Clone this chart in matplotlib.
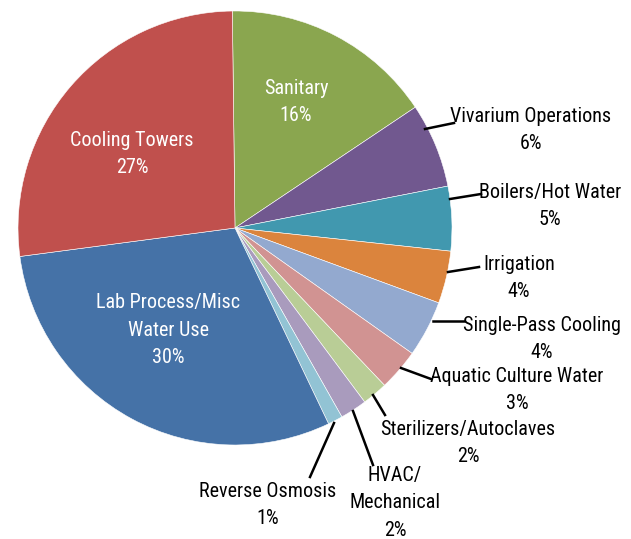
import matplotlib
matplotlib.use("Agg")
import matplotlib.pyplot as plt
from matplotlib import font_manager

# share of water use by category (percent)
categories = ["Sanitary", "Vivarium Operations", "Boilers/Hot Water", "Irrigation",
              "Single-Pass Cooling", "Aquatic Culture Water", "Sterilizers/Autoclaves",
              "HVAC/\nMechanical", "Reverse Osmosis", "Lab Process/Misc\nWater Use",
              "Cooling Towers"]
values = [15.8, 6.3, 4.8, 3.9, 4.2, 3.1, 1.9, 2.0, 1.1, 30.0, 26.9]
colors = ["#8AA64F", "#71588F", "#4198AF", "#DB843D", "#93A9CF", "#D19392",
          "#B9CD96", "#A99BBD", "#92C3D4", "#4572A7", "#C0504D"]

W, H = 631, 539

# narrow fonts first, the reference uses a condensed face
names = {f.name for f in font_manager.fontManager.ttflist}
fonts = [('Liberation Sans Narrow', 14.5), ('Roboto Condensed', 14.5),
         ('Open Sans Condensed', 14.5), ('Liberation Sans', 12.5)]
family, fs = next(((n, s) for n, s in fonts if n in names), ('DejaVu Sans', 11.5))
plt.rcParams['font.family'] = [family, 'DejaVu Sans']
ls = 1.58

fig = plt.figure(figsize=(W / 100, H / 100), dpi=100)
ax = fig.add_axes([0, 0, 1, 1])


def py(y):
    # image pixel rows run top-down
    return H - y


ax.pie(values, colors=colors, startangle=90.7, counterclock=False,
       center=(235, py(228)), radius=217,
       wedgeprops=dict(edgecolor='white', linewidth=0.4))
# pie resets the limits, so set them afterwards
ax.set_xlim(0, W)
ax.set_ylim(0, H)
ax.axis('off')

# labels inside the big slices
inside = {0: (296, 102), 10: (132, 154), 9: (168, 330)}
for i, (x, y) in inside.items():
    ax.text(x, py(y), f"{categories[i]}\n{values[i]:.0f}%", color='white',
            fontsize=fs, ha='center', va='center', linespacing=ls)

# labels outside with leader lines
outside = {
    1: (531, 130, [(425, 129), (454, 123)]),
    2: (550, 206, [(450, 199), (481, 194)]),
    3: (519, 278, [(448, 272), (479, 267)]),
    4: (542, 339, [(433, 321), (464, 321)]),
    5: (517, 390, [(401, 368), (431, 379)]),
    6: (468, 443, [(373, 395), (385, 415)]),
    7: (395, 503, [(353, 411), (373, 465)]),
    8: (268, 505, [(334, 423), (310, 477)]),
}
for i, (x, y, line) in outside.items():
    ax.text(x, py(y), f"{categories[i]}\n{values[i]:.0f}%", color='black',
            fontsize=fs, ha='center', va='center', linespacing=ls)
    xs = [p[0] for p in line]
    ys = [py(p[1]) for p in line]
    ax.plot(xs, ys, color='black', linewidth=1.8)

fig.savefig("out.png", dpi=100)
